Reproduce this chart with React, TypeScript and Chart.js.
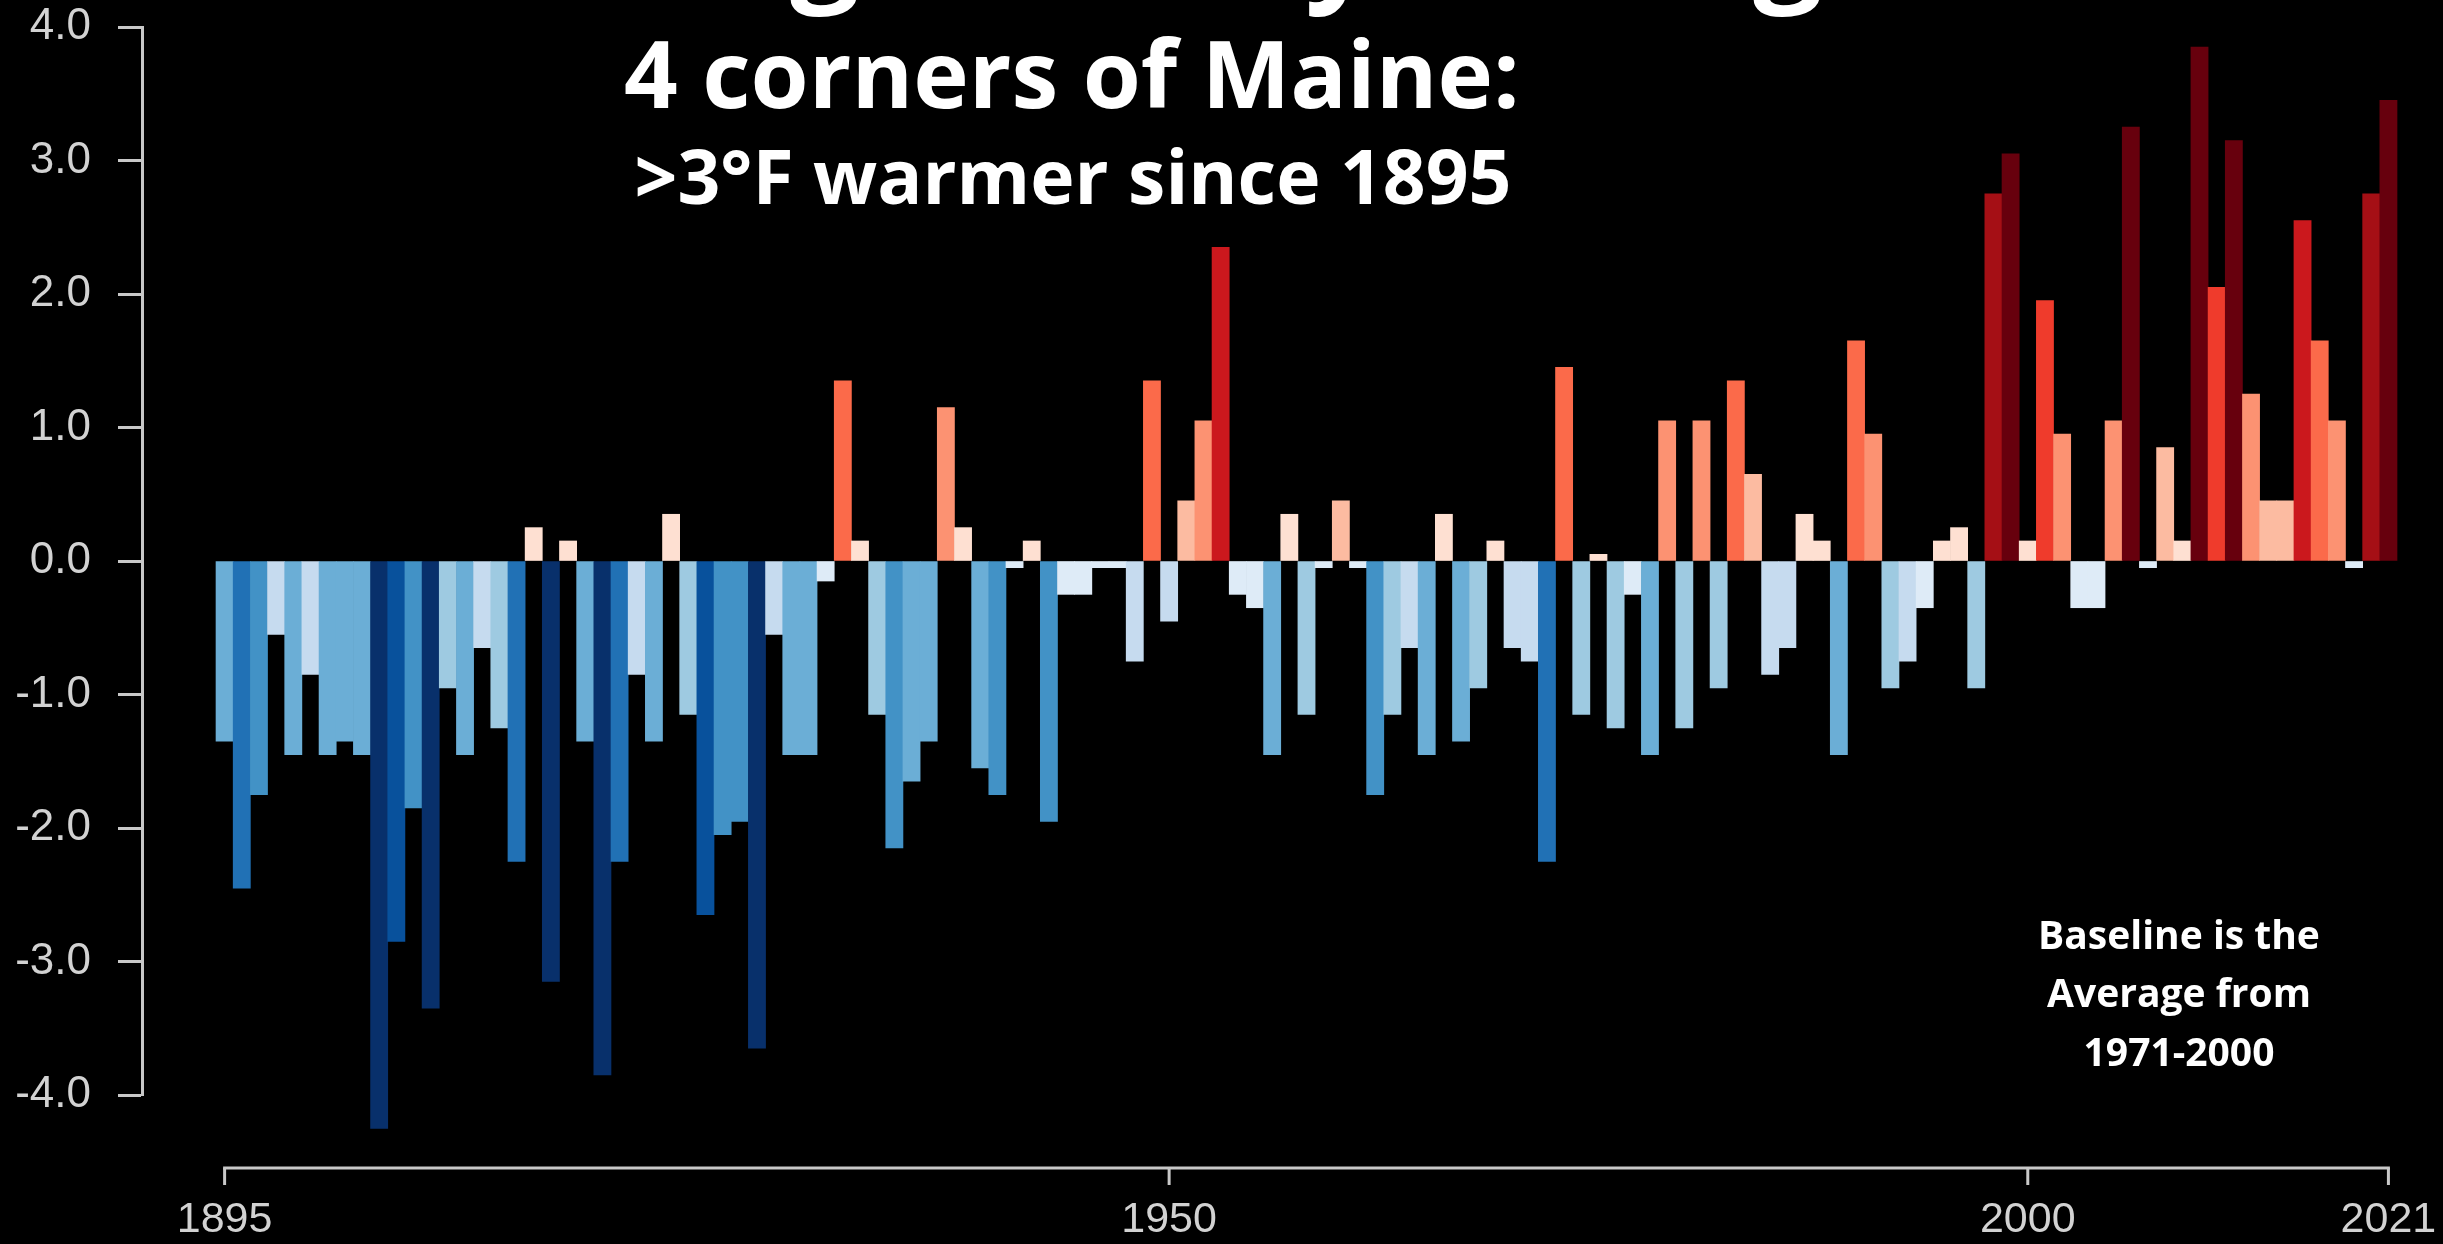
import React, { useEffect, useRef } from 'react';
import { Chart, registerables } from 'chart.js';

Chart.register(...registerables);

// ---------- data ----------
const YEARS: number[] = [
  1895, 1896, 1897, 1898, 1899, 1900, 1901, 1902, 1903, 1904,
  1905, 1906, 1907, 1908, 1909, 1910, 1911, 1912, 1913, 1914,
  1915, 1916, 1917, 1918, 1919, 1920, 1921, 1922, 1923, 1924,
  1925, 1926, 1927, 1928, 1929, 1930, 1931, 1932, 1933, 1934,
  1935, 1936, 1937, 1938, 1939, 1940, 1941, 1942, 1943, 1944,
  1945, 1946, 1947, 1948, 1949, 1950, 1951, 1952, 1953, 1954,
  1955, 1956, 1957, 1958, 1959, 1960, 1961, 1962, 1963, 1964,
  1965, 1966, 1967, 1968, 1969, 1970, 1971, 1972, 1973, 1974,
  1975, 1976, 1977, 1978, 1979, 1980, 1981, 1982, 1983, 1984,
  1985, 1986, 1987, 1988, 1989, 1990, 1991, 1992, 1993, 1994,
  1995, 1996, 1997, 1998, 1999, 2000, 2001, 2002, 2003, 2004,
  2005, 2006, 2007, 2008, 2009, 2010, 2011, 2012, 2013, 2014,
  2015, 2016, 2017, 2018, 2019, 2020, 2021,
];

// Temperature anomaly (°F) vs. 1971-2000 average
const ANOMALIES: number[] = [
  -1.35, -2.45, -1.75, -0.55, -1.45, -0.85, -1.45, -1.35, -1.45, -4.25,
  -2.85, -1.85, -3.35, -0.95, -1.45, -0.65, -1.25, -2.25, 0.25, -3.15,
  0.15, -1.35, -3.85, -2.25, -0.85, -1.35, 0.35, -1.15, -2.65, -2.05,
  -1.95, -3.65, -0.55, -1.45, -1.45, -0.15, 1.35, 0.15, -1.15, -2.15,
  -1.65, -1.35, 1.15, 0.25, -1.55, -1.75, -0.05, 0.15, -1.95, -0.25,
  -0.25, -0.05, -0.05, -0.75, 1.35, -0.45, 0.45, 1.05, 2.35, -0.25,
  -0.35, -1.45, 0.35, -1.15, -0.05, 0.45, -0.05, -1.75, -1.15, -0.65,
  -1.45, 0.35, -1.35, -0.95, 0.15, -0.65, -0.75, -2.25, 1.45, -1.15,
  0.05, -1.25, -0.25, -1.45, 1.05, -1.25, 1.05, -0.95, 1.35, 0.65,
  -0.85, -0.65, 0.35, 0.15, -1.45, 1.65, 0.95, -0.95, -0.75, -0.35,
  0.15, 0.25, -0.95, 2.75, 3.05, 0.15, 1.95, 0.95, -0.35, -0.35,
  1.05, 3.25, -0.05, 0.85, 0.15, 3.85, 2.05, 3.15, 1.25, 0.45,
  0.45, 2.55, 1.65, 1.05, -0.05, 2.75, 3.45,
];

const X_TICKS: number[] = [1895, 1950, 2000, 2021];
const Y_TICKS: number[] = [-4, -3, -2, -1, 0, 1, 2, 3, 4];

const TITLE_CUT = 'Warming steadily throughout';
const TITLE_MAIN = '4 corners of Maine:';
const SUBTITLE = '>3°F warmer since 1895';
const NOTE_LINES: string[] = ['Baseline is the', 'Average from', '1971-2000'];

// ---------- style ----------
const BLUES = ['#08306b', '#08519c', '#2171b5', '#4292c6', '#6baed6', '#9ecae1', '#c6dbef', '#deebf7'];
const REDS = ['#fee0d2', '#fcbba1', '#fc9272', '#fb6a4a', '#ef3b2c', '#cb181d', '#a50f15', '#67000d'];
const NEG_EDGES = [-3.0, -2.55, -2.2, -1.7, -1.3, -0.9, -0.4];
const POS_EDGES = [0.4, 0.9, 1.3, 1.7, 2.2, 2.6, 3.0];

const AXIS_COLOR = '#c8c8c8';
const TICK_TEXT = '#d2d2d2';
const TICK_FONT = '"Liberation Sans", Arial, Helvetica, sans-serif';
const TITLE_FONT = '"Open Sans", "Noto Sans", sans-serif';

function colorFor(v: number): string {
  if (v < 0) {
    for (let k = 0; k < NEG_EDGES.length; k++) if (v < NEG_EDGES[k]) return BLUES[k];
    return BLUES[7];
  }
  for (let k = 0; k < POS_EDGES.length; k++) if (v < POS_EDGES[k]) return REDS[k];
  return REDS[7];
}

function zeroPadding(s: any) {
  s.paddingLeft = 0;
  s.paddingRight = 0;
  s.paddingTop = 0;
  s.paddingBottom = 0;
}

const decorPlugin = {
  id: 'decor',
  afterDraw(chart: any) {
    const { ctx, chartArea, scales } = chart;
    const xs = scales.x;
    ctx.save();

    // bottom axis (R-style, detached)
    const axisY = chartArea.bottom + 73;
    ctx.strokeStyle = AXIS_COLOR;
    ctx.lineWidth = 3;
    ctx.lineCap = 'square';
    ctx.beginPath();
    ctx.moveTo(xs.getPixelForValue(X_TICKS[0]), axisY);
    ctx.lineTo(xs.getPixelForValue(X_TICKS[X_TICKS.length - 1]), axisY);
    ctx.stroke();
    ctx.lineCap = 'butt';
    X_TICKS.forEach((t) => {
      const px = xs.getPixelForValue(t);
      ctx.beginPath();
      ctx.moveTo(px, axisY);
      ctx.lineTo(px, axisY + 17);
      ctx.stroke();
    });

    // titles
    ctx.fillStyle = '#ffffff';
    ctx.textBaseline = 'alphabetic';

    // first title line, cut off at the top edge
    ctx.font = `bold 100px ${TITLE_FONT}`;
    const gW = ctx.measureText('g').width;
    const p1 = ctx.measureText('Warmin').width + gW / 2;
    const p2 = ctx.measureText('Warming steadily throu').width + gW / 2;
    const k = (1788 - 825) / (p2 - p1);
    const size0 = 100 * k;
    ctx.font = `bold ${size0}px ${TITLE_FONT}`;
    ctx.textAlign = 'left';
    ctx.fillText(TITLE_CUT, 825 - p1 * k, 17 - 0.24 * size0);

    ctx.textAlign = 'center';
    ctx.font = `bold 94px ${TITLE_FONT}`;
    ctx.fillText(TITLE_MAIN, 1072, 108);
    ctx.font = `bold 75px ${TITLE_FONT}`;
    ctx.fillText(SUBTITLE, 1073, 204);

    // baseline note
    ctx.font = `bold 39px ${TITLE_FONT}`;
    NOTE_LINES.forEach((line, i) => {
      ctx.fillText(line, 2179, 949 + i * 58.3);
    });

    ctx.restore();
  },
};

export default function App() {
  const canvasRef = useRef<HTMLCanvasElement | null>(null);

  useEffect(() => {
    document.body.style.margin = '0';
    document.body.style.background = '#000';
    const canvas = canvasRef.current;
    if (!canvas) return;

    const chart = new Chart(canvas, {
      type: 'bar',
      data: {
        datasets: [
          {
            data: YEARS.map((yr, i) => ({ x: yr, y: ANOMALIES[i] })),
            backgroundColor: ANOMALIES.map(colorFor),
            borderWidth: 0,
            barPercentage: 1,
            categoryPercentage: 1,
            clip: false as any,
          } as any,
        ],
      },
      options: {
        animation: false,
        responsive: true,
        maintainAspectRatio: false,
        layout: { padding: { top: 27, right: 46, bottom: 0, left: 0 } },
        plugins: {
          legend: { display: false },
          tooltip: { enabled: false },
          title: { display: false },
        },
        scales: {
          x: {
            type: 'linear',
            min: 1890.19,
            max: 2021.5,
            offset: false,
            grid: { display: false, drawTicks: false, offset: false },
            border: { display: false },
            afterBuildTicks: (s: any) => {
              s.ticks = X_TICKS.map((v) => ({ value: v }));
            },
            afterFit: (s: any) => {
              s.height = 149;
              zeroPadding(s);
            },
            ticks: {
              autoSkip: false,
              maxRotation: 0,
              minRotation: 0,
              padding: 99,
              color: TICK_TEXT,
              font: { family: TICK_FONT, size: 43 },
              callback: (v: any) => String(v),
            },
          },
          y: {
            type: 'linear',
            min: -4,
            max: 4,
            afterBuildTicks: (s: any) => {
              s.ticks = Y_TICKS.map((v) => ({ value: v }));
            },
            afterFit: (s: any) => {
              s.width = 142;
              zeroPadding(s);
            },
            grid: {
              drawOnChartArea: false,
              drawTicks: true,
              tickLength: 24,
              tickWidth: 3,
              tickColor: AXIS_COLOR,
            },
            border: { display: true, color: AXIS_COLOR, width: 3 },
            ticks: {
              padding: 27,
              color: TICK_TEXT,
              font: { family: TICK_FONT, size: 44 },
              callback: (v: any) => Number(v).toFixed(1),
            },
          },
        },
      } as any,
      plugins: [decorPlugin],
    });

    return () => chart.destroy();
  }, []);

  return (
    <div
      style={{
        position: 'fixed',
        left: 0,
        top: 0,
        width: '100vw',
        height: '100vh',
        background: '#000',
      }}
    >
      <canvas ref={canvasRef} />
    </div>
  );
}
